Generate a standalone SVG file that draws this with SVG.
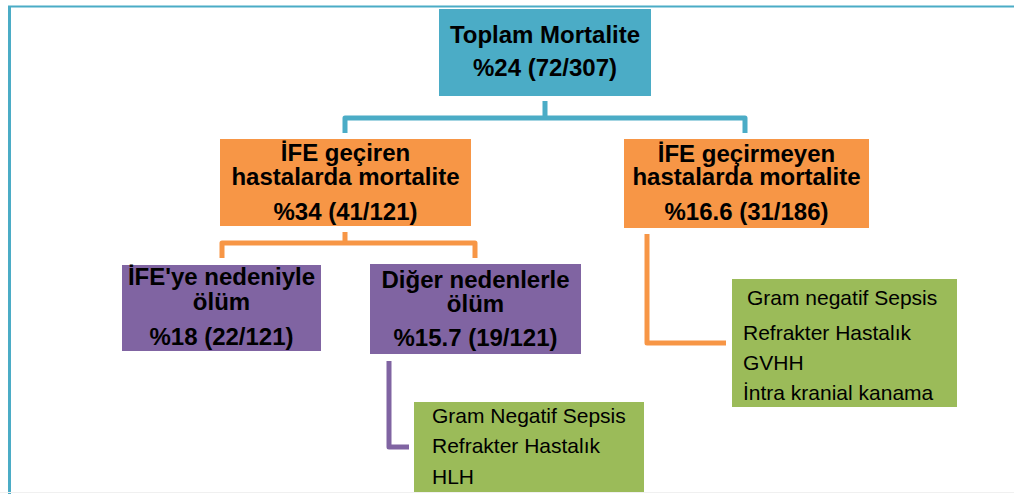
<svg xmlns="http://www.w3.org/2000/svg" width="1014" height="494" viewBox="0 0 1014 494">
<style>
.t{font-family:"Liberation Sans",Arial,sans-serif;font-weight:bold;font-size:24px;fill:#000;text-anchor:middle}
.g{font-family:"Liberation Sans",Arial,sans-serif;font-size:21px;fill:#000}
.blue{fill:#4BACC6}
.orange{fill:#F79646}
.purple{fill:#8064A2}
.green{fill:#9BBB59}
.c{fill:none;stroke-width:5;stroke-linejoin:round}
</style>
<rect width="1014" height="494" fill="#fff"/>
<g id="frame">
<line x1="8" y1="6.5" x2="1014" y2="6.5" stroke="#4BACC6" stroke-width="2"/>
<line x1="9.5" y1="6" x2="9.5" y2="494" stroke="#4BACC6" stroke-width="3"/>
<line x1="0" y1="492.5" x2="1014" y2="492.5" stroke="#f0f0f0" stroke-width="1"/>
</g>
<g id="connectors">
<path class="c" stroke="#4BACC6" d="M545,101 V118 M345,133 V118 H745 V133"/>
<path class="c" stroke="#F79646" d="M345,232 V243 M222,258 V243 H475 V258"/>
<path class="c" stroke="#F79646" d="M647,234 V343 H726"/>
<path class="c" stroke="#8064A2" d="M389,361 V447 H409"/>
</g>
<g id="n-top">
<rect class="blue" x="439" y="9" width="212" height="87"/>
<text class="t" x="545" y="43">Toplam Mortalite</text>
<text class="t" x="545" y="76">%24 (72/307)</text>
</g>
<g id="n-ife">
<rect class="orange" x="220" y="139" width="251" height="87"/>
<text class="t" x="345.5" y="161">İFE geçiren</text>
<text class="t" x="345.5" y="185">hastalarda mortalite</text>
<text class="t" x="345.5" y="220">%34 (41/121)</text>
</g>
<g id="n-noife">
<rect class="orange" x="624" y="139" width="245" height="89"/>
<text class="t" x="746.5" y="162">İFE geçirmeyen</text>
<text class="t" x="746.5" y="185">hastalarda mortalite</text>
<text class="t" x="746.5" y="220">%16.6 (31/186)</text>
</g>
<g id="n-ifedeath">
<rect class="purple" x="122" y="265" width="199" height="86"/>
<text class="t" x="221.5" y="285">İFE'ye nedeniyle</text>
<text class="t" x="221.5" y="310">ölüm</text>
<text class="t" x="221.5" y="345">%18 (22/121)</text>
</g>
<g id="n-other">
<rect class="purple" x="370" y="264" width="211" height="90"/>
<text class="t" x="475.5" y="288">Diğer nedenlerle</text>
<text class="t" x="475.5" y="312">ölüm</text>
<text class="t" x="475.5" y="346">%15.7 (19/121)</text>
</g>
<g id="n-causes1">
<rect class="green" x="414" y="402" width="230" height="90"/>
<text class="g" x="432" y="423">Gram Negatif Sepsis</text>
<text class="g" x="432" y="453">Refrakter Hastalık</text>
<text class="g" x="432" y="484">HLH</text>
</g>
<g id="n-causes2">
<rect class="green" x="732" y="279" width="225" height="128"/>
<text class="g" x="747" y="305">Gram negatif Sepsis</text>
<text class="g" x="743" y="340">Refrakter Hastalık</text>
<text class="g" x="743" y="370">GVHH</text>
<text class="g" x="743" y="400">İntra kranial kanama</text>
</g>
</svg>
